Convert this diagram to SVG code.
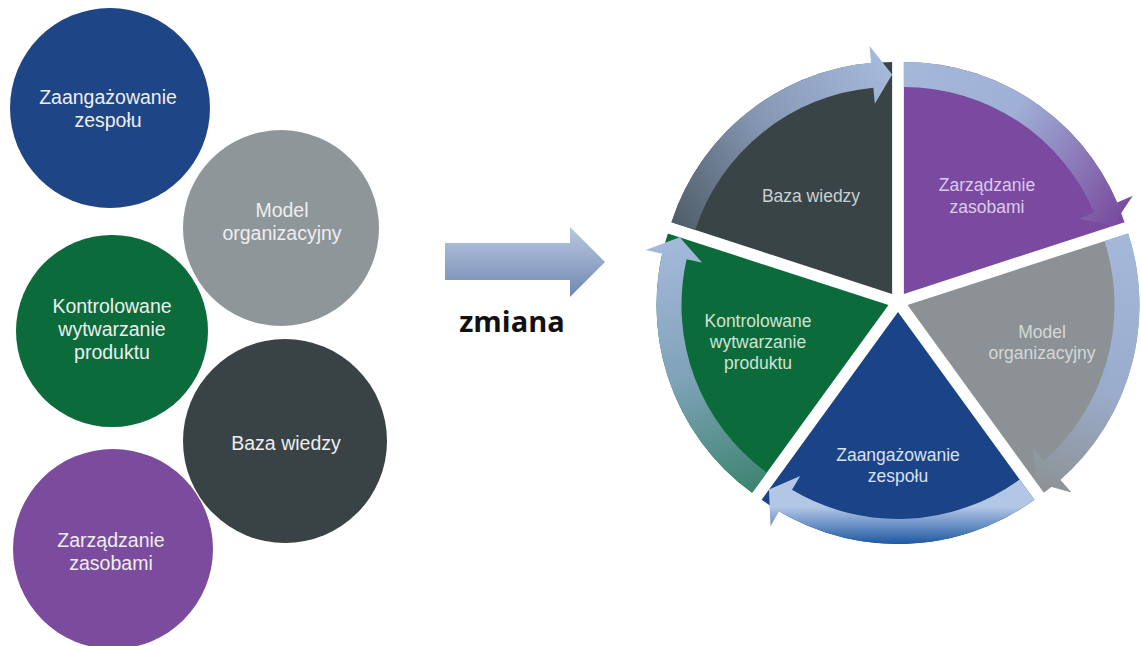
<svg xmlns="http://www.w3.org/2000/svg" width="1141" height="646" viewBox="0 0 1141 646">
<style>
.ct{font-family:"Liberation Sans",Arial,sans-serif;font-size:19.5px;fill:#eeeeee;text-anchor:middle}
.pt{font-family:"Liberation Sans",Arial,sans-serif;font-size:17.5px;text-anchor:middle}
.lbl{font-family:"Open Sans","Liberation Sans",sans-serif;font-size:29px;font-weight:bold;fill:#111111;text-anchor:middle}
</style>
<defs>
<path id="wedge" d="M0,0 L-136.37,-187.69 A232,232 0 0 1 136.37,-187.69 Z"/>
<path id="band" d="M-136.37,-187.69 A232,232 0 0 1 118.81,-199.29 L127.51,-213.89 L129.02,-177.58 L97.81,-164.07 L106.00,-177.81 A207,207 0 0 0 -121.67,-167.46 Z"/>
<linearGradient id="gArrow" x1="0" y1="0" x2="0" y2="1">
<stop offset="0" stop-color="#b9c8e0"/><stop offset="1" stop-color="#6f88b0"/>
</linearGradient>
<linearGradient id="gDark" gradientUnits="userSpaceOnUse" x1="-135" y1="0" x2="125" y2="0">
<stop offset="0" stop-color="#4f5e68"/><stop offset="0.5" stop-color="#8597b3"/><stop offset="1" stop-color="#a4b8da"/>
</linearGradient>
<linearGradient id="gPurple" gradientUnits="userSpaceOnUse" x1="-135" y1="0" x2="125" y2="0">
<stop offset="0" stop-color="#a4b8da"/><stop offset="0.45" stop-color="#9fb0d6"/><stop offset="1" stop-color="#7b4fa0"/>
</linearGradient>
<linearGradient id="gGray" gradientUnits="userSpaceOnUse" x1="-135" y1="0" x2="125" y2="0">
<stop offset="0" stop-color="#a4b8da"/><stop offset="0.6" stop-color="#9aaccc"/><stop offset="1" stop-color="#8e9499"/>
</linearGradient>
<linearGradient id="gBlue" gradientUnits="userSpaceOnUse" x1="0" y1="-232" x2="0" y2="-195">
<stop offset="0" stop-color="#1f58a3"/><stop offset="1" stop-color="#b2c6e5"/>
</linearGradient>
<linearGradient id="gGreen" gradientUnits="userSpaceOnUse" x1="-135" y1="0" x2="125" y2="0">
<stop offset="0" stop-color="#3d8470"/><stop offset="0.5" stop-color="#7fa3b8"/><stop offset="1" stop-color="#a4b8da"/>
</linearGradient>
</defs>
<rect width="1141" height="646" fill="#ffffff"/>

<g id="circle-zaangazowanie">
<circle cx="110" cy="108" r="100" fill="#1e4585"/>
<text class="ct" x="108" y="104">Zaangażowanie</text>
<text class="ct" x="108" y="127">zespołu</text>
</g>
<g id="circle-model">
<circle cx="281" cy="228" r="98" fill="#8f969a"/>
<text class="ct" x="282" y="217">Model</text>
<text class="ct" x="282" y="240">organizacyjny</text>
</g>
<g id="circle-kontrolowane">
<circle cx="112" cy="331" r="96" fill="#0b6b3a"/>
<text class="ct" x="112" y="313">Kontrolowane</text>
<text class="ct" x="112" y="336">wytwarzanie</text>
<text class="ct" x="112" y="359">produktu</text>
</g>
<g id="circle-baza">
<circle cx="285" cy="441" r="102" fill="#394345"/>
<text class="ct" x="286" y="450">Baza wiedzy</text>
</g>
<g id="circle-zarzadzanie">
<circle cx="113" cy="549" r="100" fill="#7b4c9e"/>
<text class="ct" x="111" y="547">Zarządzanie</text>
<text class="ct" x="111" y="570">zasobami</text>
</g>

<g id="slice-baza">
<use href="#wedge" transform="translate(898,302) rotate(-36) translate(0,-10)" fill="#394446"/>
<text class="pt" x="811" y="202" fill="#c9cfd2">Baza wiedzy</text>
</g>
<g id="slice-zarzadzanie">
<use href="#wedge" transform="translate(898,302) rotate(36) translate(0,-10)" fill="#7a4aa0"/>
<text class="pt" x="987" y="191" fill="#dccbe8">Zarządzanie</text>
<text class="pt" x="987" y="213" fill="#dccbe8">zasobami</text>
</g>
<g id="slice-model">
<use href="#wedge" transform="translate(898,302) rotate(108) translate(0,-10)" fill="#8b9194"/>
<text class="pt" x="1042" y="338" fill="#d5d8da">Model</text>
<text class="pt" x="1042" y="359" fill="#d5d8da">organizacyjny</text>
</g>
<g id="slice-zaangazowanie">
<use href="#wedge" transform="translate(898,302) rotate(180) translate(0,-10)" fill="#1b4387"/>
<text class="pt" x="898" y="461" fill="#d8e0ee">Zaangażowanie</text>
<text class="pt" x="898" y="482" fill="#d8e0ee">zespołu</text>
</g>
<g id="slice-kontrolowane">
<use href="#wedge" transform="translate(898,302) rotate(252) translate(0,-10)" fill="#0c6b3b"/>
<text class="pt" x="758" y="327" fill="#cfe2d5">Kontrolowane</text>
<text class="pt" x="758" y="348" fill="#cfe2d5">wytwarzanie</text>
<text class="pt" x="758" y="369" fill="#cfe2d5">produktu</text>
</g>

<g id="connectors">
<path d="M445,243 L570,243 L570,227 L605,262 L570,297 L570,280 L445,280 Z" fill="url(#gArrow)"/>
<text class="lbl" x="512" y="332">zmiana</text>
<use href="#band" transform="translate(898,302) rotate(-36) translate(0,-10)" fill="url(#gDark)"/>
<use href="#band" transform="translate(898,302) rotate(36) translate(0,-10)" fill="url(#gPurple)"/>
<use href="#band" transform="translate(898,302) rotate(108) translate(0,-10)" fill="url(#gGray)"/>
<use href="#band" transform="translate(898,302) rotate(180) translate(0,-10)" fill="url(#gBlue)"/>
<use href="#band" transform="translate(898,302) rotate(252) translate(0,-10)" fill="url(#gGreen)"/>
</g>
</svg>
